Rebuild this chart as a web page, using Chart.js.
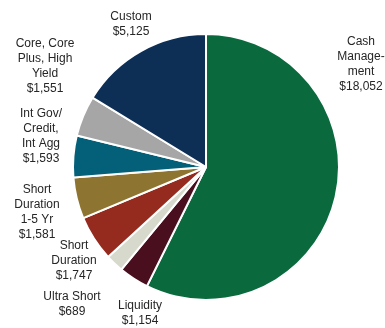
<!DOCTYPE html>
<html>
<head>
<meta charset="utf-8">
<script src="https://cdn.jsdelivr.net/npm/chart.js@4"></script>
<style>
  body { margin: 0; background: #fff; }
  canvas { display: block; }
</style>
</head>
<body>
<canvas id="canvas_pie" width="385" height="328"></canvas>
<script>
// categories in drawing order (clockwise from 12 o'clock)
var categories = [
    'Cash\nManage-\nment',
    'Liquidity',
    'Ultra Short',
    'Short\nDuration',
    'Short\nDuration\n1-5 Yr',
    'Int Gov/\nCredit,\nInt Agg',
    'Core, Core\nPlus, High\nYield',
    'Custom'
];
var amounts = [18052, 1154, 689, 1747, 1581, 1593, 1551, 5125];
var colors = ['#0a6a3e', '#4a0f1f', '#d8d9cd', '#952a1e', '#8e7431', '#045f78', '#a6a6a6', '#0d2e55'];

// where each label block is centred (x, y of first line)
var labelPos = [
    [361, 42], [140, 306], [72, 297], [74, 246],
    [37, 190], [41, 114], [45, 44], [131, 17]
];

var outsideLabels = {
    id: 'outsideLabels',
    afterDraw: function(chart) {
        var ctx = chart.ctx;
        ctx.save();
        ctx.font = '12px "Liberation Sans", Arial, sans-serif';
        ctx.fillStyle = '#262626';
        ctx.textAlign = 'center';
        ctx.textBaseline = 'middle';
        categories.forEach(function(cat, i) {
            var lines = cat.split('\n');
            lines.push('$' + amounts[i].toLocaleString('en-US'));
            var p = labelPos[i];
            lines.forEach(function(line, j) {
                ctx.fillText(line, p[0], p[1] + j * 15);
            });
        });
        ctx.restore();
    }
};

var ctx = document.getElementById('canvas_pie').getContext('2d');
var myChart = new Chart(ctx, {
    type: 'pie',
    data: {
        labels: categories,
        datasets: [{
            data: amounts,
            backgroundColor: colors,
            borderColor: '#ffffff',
            borderWidth: 2
        }]
    },
    options: {
        responsive: false,
        animation: false,
        layout: {
            padding: { top: 33, bottom: 27, left: 72, right: 45 }
        },
        plugins: {
            legend: { display: false },
            tooltip: { enabled: false }
        }
    },
    plugins: [outsideLabels]
});
</script>
</body>
</html>
